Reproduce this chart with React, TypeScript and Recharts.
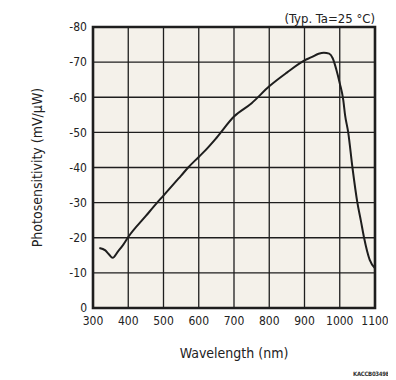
import React from 'react';
import { LineChart, Line, XAxis, YAxis, CartesianGrid, ReferenceArea } from 'recharts';

const wavelengths = [318, 335, 345, 356, 370, 385, 400, 450, 482, 500, 550, 570, 600, 618, 650, 700, 750, 800, 850, 900, 920, 940, 955, 970, 980, 990, 1000, 1010, 1015, 1024, 1036, 1050, 1060, 1069, 1085, 1100];
const sensitivity = [-17.1, -16.4, -15.3, -14.3, -16.0, -17.9, -20.2, -26.2, -30, -32.0, -37.7, -40, -43, -44.8, -48.4, -54.5, -58.3, -63.1, -67, -70.5, -71.4, -72.4, -72.7, -72.4, -71.1, -68, -64, -59.2, -55, -50, -40, -30, -24.8, -20, -13.7, -11.3];
const xTicks = [300, 400, 500, 600, 700, 800, 900, 1000, 1100];
const yTicks = [0, -10, -20, -30, -40, -50, -60, -70, -80];

const data = wavelengths.map((w, i) => ({ w, v: sensitivity[i] }));

const FONT = "'DejaVu Sans Condensed', 'DejaVu Sans', sans-serif";
const tickStyle = { fontSize: 12, fill: '#222', fontFamily: FONT };

export default function App() {
  return (
    <div style={{ position: 'relative', width: 388, height: 372 }}>
      <LineChart width={388} height={372} data={data} margin={{ top: 19, right: 21, bottom: 0, left: 0 }}>
        <CartesianGrid fill="#f4f1ea" stroke="#1e1e1e" strokeWidth={1.3} horizontalValues={yTicks} verticalValues={xTicks} />
        <XAxis
          dataKey="w"
          type="number"
          domain={[300, 1100]}
          ticks={xTicks}
          height={72}
          tickSize={0}
          tickMargin={8}
          axisLine={false}
          tick={tickStyle}
          interval={0}
          label={{ value: 'Wavelength (nm)', position: 'center', dy: 9, style: { fontSize: 14, fill: '#222', fontFamily: FONT } }}
        />
        <YAxis
          type="number"
          domain={[-80, 0]}
          reversed
          ticks={yTicks}
          width={85}
          tickSize={0}
          tickMargin={6}
          axisLine={false}
          tick={tickStyle}
          interval={0}
          label={{ value: 'Photosensitivity (mV/μW)', angle: -90, position: 'center', dx: -13, style: { fontSize: 14, fill: '#222', fontFamily: FONT, textAnchor: 'middle' } }}
        />
        <ReferenceArea x1={300} x2={1100} y1={-80} y2={0} fill="none" fillOpacity={0} stroke="#1e1e1e" strokeWidth={2.6} ifOverflow="visible" />
        <Line type="monotone" dataKey="v" stroke="#1e1e1e" strokeWidth={2} dot={false} isAnimationActive={false} />
      </LineChart>
      <div style={{ position: 'absolute', right: 21, top: 3, fontFamily: FONT, fontSize: 13, color: '#222', whiteSpace: 'nowrap', lineHeight: '16px' }}>
        (Typ. Ta=25 °C)
      </div>
      <div style={{ position: 'absolute', right: 3, top: 362, fontFamily: FONT, fontSize: 6, color: '#333', whiteSpace: 'nowrap', lineHeight: '8px', fontWeight: 'bold', letterSpacing: -0.3 }}>
        KACCB0349EA
      </div>
    </div>
  );
}
